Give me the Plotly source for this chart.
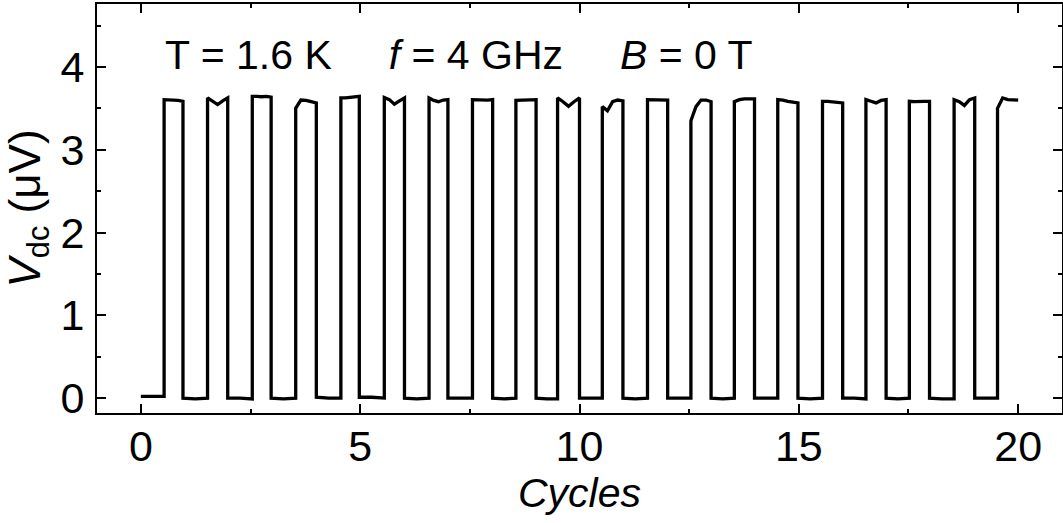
import plotly.graph_objects as go

# Rising / falling edge positions (cycles)
rise_x = [0.53, 1.52, 2.54, 3.53, 4.56, 5.55, 6.57, 7.56, 8.55, 9.50,
          10.52, 11.55, 12.54, 13.53, 14.52, 15.54, 16.53, 17.52, 18.54, 19.53]
fall_x = [0.96, 1.98, 2.97, 4.00, 4.98, 6.01, 7.00, 8.02, 9.01, 10.00,
          10.99, 12.01, 13.00, 13.99, 14.98, 16.00, 16.99, 17.98, 19.01]
end_x = 20.0

# Low-state levels (start, middle, end) for each off segment (µV)
low_levels = [
    [0.02, 0.02, 0.02], [0.00, -0.01, 0.00], [0.00, 0.00, -0.01], [0.00, -0.01, 0.00],
    [0.01, 0.00, 0.00], [0.01, 0.01, 0.00], [0.00, -0.01, 0.00], [0.00, 0.00, 0.00],
    [0.00, -0.01, 0.00], [0.00, -0.01, -0.01], [0.00, 0.00, 0.00], [0.00, -0.01, 0.00],
    [0.00, 0.00, 0.00], [0.00, -0.01, 0.00], [0.00, 0.00, 0.00], [0.00, -0.01, 0.00],
    [0.00, 0.00, -0.01], [0.00, -0.01, 0.00], [0.00, -0.01, -0.01], [0.00, 0.00, 0.00],
]

# High-state levels sampled across each on pulse (µV)
high_levels = [
    [3.605, 3.605, 3.600, 3.595, 3.585],
    [3.625, 3.585, 3.545, 3.590, 3.625],
    [3.645, 3.645, 3.640, 3.645, 3.635],
    [3.500, 3.600, 3.595, 3.580, 3.565],
    [3.625, 3.625, 3.630, 3.640, 3.645],
    [3.630, 3.605, 3.550, 3.590, 3.625],
    [3.625, 3.595, 3.580, 3.600, 3.605],
    [3.605, 3.600, 3.605, 3.600, 3.605],
    [3.595, 3.595, 3.600, 3.605, 3.605],
    [3.625, 3.580, 3.525, 3.580, 3.625],
    [3.520, 3.470, 3.580, 3.600, 3.590],
    [3.605, 3.605, 3.600, 3.595, 3.600],
    [3.350, 3.520, 3.600, 3.600, 3.580],
    [3.580, 3.605, 3.615, 3.615, 3.615],
    [3.605, 3.600, 3.585, 3.575, 3.565],
    [3.585, 3.585, 3.580, 3.565, 3.565],
    [3.605, 3.585, 3.565, 3.595, 3.605],
    [3.585, 3.580, 3.585, 3.585, 3.585],
    [3.605, 3.580, 3.535, 3.605, 3.625],
    [3.500, 3.625, 3.605, 3.600, 3.600],
]

x_ticks = [0, 5, 10, 15, 20]
y_ticks = [0, 1, 2, 3, 4]

# Assemble the trace from the arrays above
fracs = [0.0, 0.25, 0.5, 0.75, 1.0]
xs, ys = [], []
seg_start = 0.0
for k in range(len(rise_x)):
    r = rise_x[k]
    lo = low_levels[k]
    xs += [seg_start, (seg_start + r) / 2, r]
    ys += lo
    f_end = fall_x[k] if k < len(fall_x) else end_x
    for fr, v in zip(fracs, high_levels[k]):
        xs.append(r + fr * (f_end - r))
        ys.append(v)
    seg_start = f_end

FONT = "Liberation Sans, Arial, sans-serif"

fig = go.Figure()
fig.add_trace(go.Scatter(x=xs, y=ys, mode="lines",
                         line=dict(color="black", width=3.3),
                         showlegend=False, hoverinfo="skip"))

axis_common = dict(
    showline=True, linecolor="black", linewidth=2, mirror="ticks",
    ticks="inside", ticklen=9, tickwidth=2, tickcolor="black",
    showgrid=False, zeroline=False, automargin=False,
    tickfont=dict(family=FONT, size=43, color="black"),
)

fig.update_xaxes(range=[-1, 21], tickvals=x_ticks, ticktext=[str(v) for v in x_ticks],
                 minor=dict(ticks="inside", ticklen=4, tickwidth=2, tickcolor="black", dtick=2.5, tick0=0),
                 title=dict(text="<i>Cycles</i>", font=dict(family=FONT, size=41, color="black"), standoff=0),
                 ticklabelstandoff=-6,
                 **axis_common)
fig.update_yaxes(range=[-0.18, 4.76], tickvals=y_ticks, ticktext=[str(v) for v in y_ticks],
                 minor=dict(ticks="inside", ticklen=4, tickwidth=2, tickcolor="black", dtick=0.5, tick0=0),
                 title=dict(text="<i>V</i><sub>dc</sub> (μV)", font=dict(family=FONT, size=44, color="black"), standoff=14),
                 ticklabelstandoff=2,
                 **axis_common)

fig.add_annotation(
    x=0.5, y=4.15, xref="x", yref="y", xanchor="left", yanchor="middle",
    text="T = 1.6 K\u00a0\u00a0\u00a0\u00a0 <i>f</i> = 4 GHz\u00a0\u00a0\u00a0\u00a0 <i>B</i> = 0 T",
    showarrow=False, font=dict(family=FONT, size=41, color="black"),
)

fig.update_layout(
    width=1063, height=523,
    margin=dict(l=97, r=1, t=4, b=110),
    paper_bgcolor="white", plot_bgcolor="white",
    font=dict(family=FONT, color="black"),
)

fig.write_html("out.html", config={"displayModeBar": False},
               post_script="document.body.style.margin='0';document.body.style.overflow='hidden';")
